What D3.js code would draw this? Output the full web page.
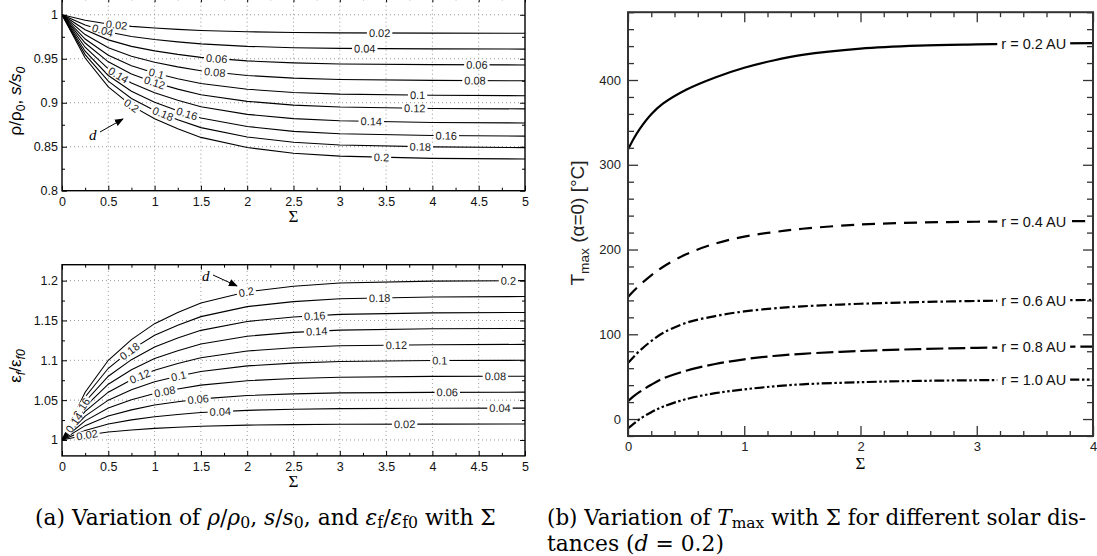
<!DOCTYPE html>
<html>
<head>
<meta charset="utf-8">
<script src="https://cdn.jsdelivr.net/npm/d3@7"></script>
<style>
  body { margin: 0; background: #fff; }
  svg { display: block; }
</style>
</head>
<body>
<svg id="fig" width="1097" height="556"></svg>
<script>
// ---- data ----
const sigmaA = [0, 0.25, 0.5, 0.75, 1, 1.25, 1.5, 2, 2.5, 3, 4, 5];
const dNames = ["0.02", "0.04", "0.06", "0.08", "0.1", "0.12", "0.14", "0.16", "0.18", "0.2"];

// rho/rho0 (= s/s0) for each d
const rhoRatio = [
  [1, 0.9937, 0.9895, 0.9868, 0.9849, 0.9834, 0.9822, 0.9807, 0.9798, 0.9794, 0.9791, 0.979],
  [1, 0.9883, 0.9805, 0.9754, 0.9719, 0.9692, 0.9669, 0.9641, 0.9626, 0.9618, 0.9612, 0.961],
  [1, 0.9829, 0.9715, 0.9641, 0.9590, 0.9550, 0.9516, 0.9476, 0.9453, 0.9441, 0.9433, 0.943],
  [1, 0.9775, 0.9625, 0.9528, 0.9460, 0.9408, 0.9363, 0.9310, 0.9280, 0.9265, 0.9254, 0.925],
  [1, 0.9724, 0.9540, 0.9420, 0.9338, 0.9273, 0.9218, 0.9154, 0.9117, 0.9098, 0.9085, 0.908],
  [1, 0.9679, 0.9465, 0.9326, 0.9230, 0.9155, 0.9090, 0.9016, 0.8973, 0.8951, 0.8935, 0.893],
  [1, 0.9631, 0.9385, 0.9225, 0.9114, 0.9028, 0.8955, 0.8868, 0.8819, 0.8795, 0.8776, 0.877],
  [1, 0.9586, 0.9310, 0.9131, 0.9006, 0.8910, 0.8827, 0.8730, 0.8675, 0.8648, 0.8627, 0.862],
  [1, 0.9547, 0.9245, 0.9049, 0.8913, 0.8807, 0.8717, 0.8611, 0.8550, 0.8520, 0.8498, 0.849],
  [1, 0.9508, 0.9180, 0.8967, 0.8819, 0.8704, 0.8606, 0.8491, 0.8426, 0.8393, 0.8368, 0.836]
];

// eps_f/eps_f0 for each d
const epsRatio = [
  [1, 1.006, 1.010, 1.0126, 1.0146, 1.016, 1.0172, 1.0186, 1.0193, 1.0197, 1.0199, 1.02],
  [1, 1.012, 1.020, 1.0252, 1.0292, 1.032, 1.0344, 1.0372, 1.0386, 1.0394, 1.0399, 1.04],
  [1, 1.018, 1.030, 1.0378, 1.0438, 1.048, 1.0516, 1.0558, 1.0579, 1.0591, 1.0598, 1.06],
  [1, 1.024, 1.040, 1.0504, 1.0584, 1.064, 1.0688, 1.0744, 1.0772, 1.0788, 1.0798, 1.08],
  [1, 1.030, 1.050, 1.0630, 1.0730, 1.080, 1.0860, 1.0930, 1.0965, 1.0985, 1.0997, 1.10],
  [1, 1.036, 1.060, 1.0756, 1.0876, 1.096, 1.1032, 1.1116, 1.1158, 1.1182, 1.1196, 1.12],
  [1, 1.042, 1.070, 1.0882, 1.1022, 1.112, 1.1204, 1.1302, 1.1351, 1.1379, 1.1396, 1.14],
  [1, 1.048, 1.080, 1.1008, 1.1168, 1.128, 1.1376, 1.1488, 1.1544, 1.1576, 1.1595, 1.16],
  [1, 1.054, 1.090, 1.1134, 1.1314, 1.144, 1.1548, 1.1674, 1.1737, 1.1773, 1.1795, 1.18],
  [1, 1.060, 1.100, 1.1260, 1.1460, 1.160, 1.1720, 1.1860, 1.1930, 1.1970, 1.1994, 1.20]
];

// contour label spots: [d, Sigma]
const rhoLabelAt = [
  ["0.02", 0.59], ["0.02", 3.43], ["0.04", 0.44], ["0.04", 3.27],
  ["0.06", 1.67], ["0.06", 4.48], ["0.08", 1.65], ["0.08", 4.46],
  ["0.1", 1.02], ["0.1", 3.84], ["0.12", 1.0], ["0.12", 3.81],
  ["0.14", 0.61], ["0.14", 3.34], ["0.16", 1.35], ["0.16", 4.15],
  ["0.18", 1.09], ["0.18", 3.87], ["0.2", 0.75], ["0.2", 3.45]
];
const epsLabelAt = [
  ["0.2", 1.99], ["0.2", 4.82], ["0.18", 0.73], ["0.18", 3.43],
  ["0.16", 0.21], ["0.16", 2.73], ["0.14", 0.13], ["0.14", 2.75],
  ["0.12", 0.84], ["0.12", 3.61], ["0.1", 1.26], ["0.1", 4.08],
  ["0.08", 1.11], ["0.08", 4.68], ["0.06", 1.47], ["0.06", 4.16],
  ["0.04", 1.71], ["0.04", 4.73], ["0.02", 0.27], ["0.02", 3.7]
];

// right panel: T_max vs Sigma
const sigmaB = [0, 0.05, 0.1, 0.2, 0.3, 0.5, 0.75, 1, 1.25, 1.5, 2, 2.5, 3, 3.5, 4];
const tmax02 = [318, 331, 342, 359.5, 372, 388.5, 403, 414.4, 423, 429.6, 437, 440.5, 442, 443, 443.5];
const tmax04 = [144, 151.4, 158, 169.6, 179.4, 194.4, 207, 215.3, 220.5, 224.5, 229.5, 231.8, 232.8, 233.3, 233.6];
const tmax06 = [66, 73.5, 80.5, 92, 101.5, 113.5, 121.5, 127, 130.5, 133, 136, 138, 139.3, 140, 140.5];
const tmax08 = [21, 27, 32, 40.5, 47.7, 57, 65, 70.5, 74.4, 77, 80.3, 82.5, 84, 85, 85.5];
const tmax10 = [-11, -5.5, 0, 8, 14.5, 23.5, 30.5, 35, 38.5, 41, 43.5, 45, 45.8, 46.3, 46.5];
const rNames = ["r = 0.2 AU", "r = 0.4 AU", "r = 0.6 AU", "r = 0.8 AU", "r = 1.0 AU"];

// ---- drawing ----
const SANS = "'Liberation Sans', Arial, Helvetica, sans-serif";
const SERIF = "'Liberation Serif', 'DejaVu Serif', serif";
const CAPSERIF = "'DejaVu Serif', 'Liberation Serif', serif";
const svg = d3.select("#fig");

svg.append("defs").append("marker")
  .attr("id", "arrow").attr("viewBox", "0 0 10 10")
  .attr("refX", 9).attr("refY", 5)
  .attr("markerWidth", 9).attr("markerHeight", 9)
  .attr("markerUnits", "userSpaceOnUse")
  .attr("orient", "auto")
  .append("path").attr("d", "M0,1 L10,5 L0,9 Z").attr("fill", "#000");

// write text with sub / italic pieces: [str, style]
function rich(t, parts, subShift) {
  let down = 0;
  parts.forEach(([s, st]) => {
    const sp = t.append("tspan").text(s);
    const isSub = st && st.includes("sub");
    if (isSub && down === 0) { sp.attr("dy", subShift); down = 1; }
    if (!isSub && down === 1) { sp.attr("dy", -subShift); down = 0; }
    if (isSub) sp.attr("font-size", "72%");
    if (st && st.includes("i")) sp.attr("font-style", "italic");
  });
  return t;
}

function panelA(id, x, y, yMajor, yMinor, yFmt, curves, labelAt) {
  const g = svg.append("g").attr("id", id);
  const [xa, xb] = x.range();
  const [yb, ya] = y.range();
  const xMajor = d3.range(0, 5.001, 0.5);
  const xMinor = d3.range(0.25, 5, 0.5);

  g.append("clipPath").attr("id", id + "-clip")
    .append("rect").attr("x", xa).attr("y", ya).attr("width", xb - xa).attr("height", yb - ya);

  // dotted grid
  const grid = g.append("g").attr("stroke", "#8a8a8a").attr("stroke-width", 0.9).attr("stroke-dasharray", "1,3");
  grid.selectAll(".gx").data(xMajor.filter(v => v > 0 && v < 5)).join("line")
    .attr("x1", d => x(d)).attr("x2", d => x(d)).attr("y1", yb).attr("y2", ya);
  grid.selectAll(".gy").data(yMajor.filter(v => y(v) > ya + 1 && y(v) < yb - 1)).join("line")
    .attr("x1", xa).attr("x2", xb).attr("y1", d => y(d)).attr("y2", d => y(d));

  const line = d3.line().x((d, i) => x(sigmaA[i])).y(d => y(d));
  g.append("g").attr("clip-path", `url(#${id}-clip)`)
    .selectAll("path").data(curves).join("path")
    .attr("d", line).attr("fill", "none").attr("stroke", "#000").attr("stroke-width", 1.1);

  // inline contour labels
  const lab = g.append("g");
  labelAt.forEach(([name, s]) => {
    const vals = curves[dNames.indexOf(name)];
    const f = d3.scaleLinear().domain(sigmaA).range(vals);
    const sA = Math.max(0, s - 0.07), sB = s + 0.07;
    const ang = Math.atan2(y(f(sB)) - y(f(sA)), x(sB) - x(sA)) * 180 / Math.PI;
    const lg = lab.append("g").attr("transform", `translate(${x(s)},${y(f(s))}) rotate(${ang})`);
    const t = lg.append("text").text(name)
      .attr("text-anchor", "middle").attr("dy", "0.36em")
      .attr("font-family", SANS).attr("font-size", 11).attr("fill", "#222");
    const w = t.node().getComputedTextLength();
    lg.insert("rect", "text").attr("x", -w / 2 - 2).attr("y", -4).attr("width", w + 4).attr("height", 8).attr("fill", "#fff");
  });

  // axes with inward ticks
  const ax = (sel, a) => { sel.call(a); sel.select(".domain").remove(); sel.selectAll("line").attr("stroke", "#000"); return sel; };
  ax(g.append("g").attr("transform", `translate(0,${yb})`),
    d3.axisBottom(x).tickValues(xMajor).tickSize(-5).tickPadding(6).tickFormat(d3.format("~g")));
  ax(g.append("g").attr("transform", `translate(0,${yb})`),
    d3.axisBottom(x).tickValues(xMinor).tickSize(-3).tickFormat(""));
  ax(g.append("g").attr("transform", `translate(0,${ya})`),
    d3.axisTop(x).tickValues(xMajor).tickSize(-5).tickFormat(""));
  ax(g.append("g").attr("transform", `translate(0,${ya})`),
    d3.axisTop(x).tickValues(xMinor).tickSize(-3).tickFormat(""));
  ax(g.append("g").attr("transform", `translate(${xa},0)`),
    d3.axisLeft(y).tickValues(yMajor).tickSize(-5).tickPadding(4).tickFormat(yFmt));
  ax(g.append("g").attr("transform", `translate(${xa},0)`),
    d3.axisLeft(y).tickValues(yMinor).tickSize(-3).tickFormat(""));
  ax(g.append("g").attr("transform", `translate(${xb},0)`),
    d3.axisRight(y).tickValues(yMajor).tickSize(-5).tickFormat(""));
  ax(g.append("g").attr("transform", `translate(${xb},0)`),
    d3.axisRight(y).tickValues(yMinor).tickSize(-3).tickFormat(""));
  g.selectAll(".tick text").attr("font-family", SANS).attr("font-size", 12.5).attr("fill", "#111");

  g.append("rect").attr("x", xa).attr("y", ya).attr("width", xb - xa).attr("height", yb - ya)
    .attr("fill", "none").attr("stroke", "#000").attr("stroke-width", 1.4);

  g.append("text").attr("x", (xa + xb) / 2).attr("y", yb + 31).attr("text-anchor", "middle")
    .attr("font-family", SERIF).attr("font-size", 17).text("Σ");
  return g;
}

// (a) top: rho/rho0, s/s0
const xA = d3.scaleLinear().domain([0, 5]).range([62, 525]);
const yRho = d3.scaleLinear().domain([0.8, 1.02]).range([190.7, -2.8]);
panelA("top", xA, yRho,
  [0.8, 0.85, 0.9, 0.95, 1], d3.range(0.825, 1.01, 0.05), d3.format("~g"), rhoRatio, rhoLabelAt);

// (a) bottom: eps_f/eps_f0
const yEps = d3.scaleLinear().domain([0.98, 1.22]).range([455.9, 264.7]);
panelA("bot", xA, yEps,
  [1, 1.05, 1.1, 1.15, 1.2], d3.range(0.975, 1.22, 0.05).filter(v => v > 0.98), d3.format("~g"), epsRatio, epsLabelAt);

// axis titles (left)
rich(svg.append("text").attr("transform", "translate(21,101) rotate(-90)")
  .attr("text-anchor", "middle").attr("font-family", SANS).attr("font-size", 17),
  [["ρ/ρ", ""], ["0", "sub"], [", ", ""], ["s/s", "i"], ["0", "isub"]], 4);
rich(svg.append("text").attr("transform", "translate(21,366) rotate(-90)")
  .attr("text-anchor", "middle").attr("font-family", SANS).attr("font-size", 17),
  [["ε", ""], ["f", "isub"], ["/ε", ""], ["f0", "isub"]], 4);

// "d" arrows
function dArrow(tx, ty, x1, y1, x2, y2) {
  svg.append("text").attr("x", tx).attr("y", ty).attr("font-family", SERIF)
    .attr("font-style", "italic").attr("font-size", 15).text("d");
  svg.append("line").attr("x1", x1).attr("y1", y1).attr("x2", x2).attr("y2", y2)
    .attr("stroke", "#000").attr("stroke-width", 1).attr("marker-end", "url(#arrow)");
}
dArrow(89, 140, 100, 132, 123, 119);
dArrow(202, 281, 213, 275, 237, 286);

// (b) right panel
const xB = d3.scaleLinear().domain([0, 4]).range([628, 1093]);
const yB = d3.scaleLinear().domain([-20, 480]).range([436, 12.2]);
const gR = svg.append("g");
gR.append("clipPath").attr("id", "rclip").append("rect")
  .attr("x", 628).attr("y", 12.2).attr("width", 465).attr("height", 423.8);

const tCurves = [tmax02, tmax04, tmax06, tmax08, tmax10];
const dashes = ["none", "13,8", "10,3,2.5,3", "17,5", "10,2.5,2.5,2.5,2.5,2.5"];
const lineB = d3.line().x((d, i) => xB(sigmaB[i])).y(d => yB(d)).curve(d3.curveCatmullRom);
gR.append("g").attr("clip-path", "url(#rclip)")
  .selectAll("path").data(tCurves).join("path")
  .attr("d", lineB).attr("fill", "none").attr("stroke", "#000").attr("stroke-width", 2.2)
  .attr("stroke-dasharray", (d, i) => dashes[i]);

const labX = 3.49;
tCurves.forEach((vals, i) => {
  const f = d3.scaleLinear().domain(sigmaB).range(vals);
  const lg = gR.append("g").attr("transform", `translate(${xB(labX)},${yB(f(labX))})`);
  const t = lg.append("text").text(rNames[i]).attr("text-anchor", "middle").attr("dy", "0.36em")
    .attr("font-family", SANS).attr("font-size", 14.5).attr("fill", "#111");
  const w = t.node().getComputedTextLength();
  lg.insert("rect", "text").attr("x", -w / 2 - 4).attr("y", -7).attr("width", w + 8).attr("height", 14).attr("fill", "#fff");
});

const axR = (sel, a) => { sel.call(a); sel.select(".domain").remove(); sel.selectAll("line").attr("stroke", "#333").attr("stroke-width", 1.3); return sel; };
const xMajB = d3.range(0, 4.001, 1), xMinB = d3.range(0.2, 4, 0.2).filter(v => Math.abs(v - Math.round(v)) > 0.01);
const yMajB = d3.range(0, 401, 100), yMinB = d3.range(-20, 481, 20).filter(v => v % 100 !== 0);
axR(gR.append("g").attr("transform", "translate(0,436)"),
  d3.axisBottom(xB).tickValues(xMajB).tickSize(-10).tickPadding(6).tickFormat(d3.format("d")));
axR(gR.append("g").attr("transform", "translate(0,436)"), d3.axisBottom(xB).tickValues(xMinB).tickSize(-5).tickFormat(""));
axR(gR.append("g").attr("transform", "translate(0,12.2)"), d3.axisTop(xB).tickValues(xMajB).tickSize(-10).tickFormat(""));
axR(gR.append("g").attr("transform", "translate(0,12.2)"), d3.axisTop(xB).tickValues(xMinB).tickSize(-5).tickFormat(""));
axR(gR.append("g").attr("transform", "translate(628,0)"),
  d3.axisLeft(yB).tickValues(yMajB).tickSize(-10).tickPadding(7).tickFormat(d3.format("d")));
axR(gR.append("g").attr("transform", "translate(628,0)"), d3.axisLeft(yB).tickValues(yMinB).tickSize(-6).tickFormat(""));
axR(gR.append("g").attr("transform", "translate(1093,0)"), d3.axisRight(yB).tickValues(yMajB).tickSize(-10).tickFormat(""));
axR(gR.append("g").attr("transform", "translate(1093,0)"), d3.axisRight(yB).tickValues(yMinB).tickSize(-6).tickFormat(""));
gR.selectAll(".tick text").attr("font-family", SANS).attr("font-size", 13).attr("fill", "#222");
gR.append("rect").attr("x", 628).attr("y", 12.2).attr("width", 465).attr("height", 423.8)
  .attr("fill", "none").attr("stroke", "#333").attr("stroke-width", 2);
gR.append("text").attr("x", xB(2)).attr("y", 469).attr("text-anchor", "middle")
  .attr("font-family", SERIF).attr("font-size", 17).text("Σ");
rich(gR.append("text").attr("transform", "translate(584,223) rotate(-90)")
  .attr("text-anchor", "middle").attr("font-family", SANS).attr("font-size", 19).attr("fill", "#222"),
  [["T", ""], ["max", "sub"], [" (α=0) [°C]", ""]], 5);

// captions: size fitted to the reference width of (a), (b) justified by word spacing
const capA = rich(svg.append("text").attr("x", 35).attr("y", 525)
  .attr("font-family", CAPSERIF).attr("font-size", 16),
  [["(a)  Variation of ", ""], ["ρ", "i"], ["/", ""], ["ρ", "i"], ["0", "sub"], [", ", ""], ["s", "i"], ["/", ""], ["s", "i"], ["0", "sub"],
   [", and ", ""], ["ε", "i"], ["f", "sub"], ["/", ""], ["ε", "i"], ["f0", "sub"], [" with Σ", ""]], 3);
const capSize = 16 * 461 / capA.node().getComputedTextLength();
capA.attr("font-size", capSize);

const capB1 = rich(svg.append("text").attr("x", 547).attr("y", 525)
  .attr("font-family", CAPSERIF).attr("font-size", capSize),
  [["(b)  Variation of ", ""], ["T", "i"], ["max", "sub"], [" with Σ for different solar dis-", ""]], 3);
const spB = (capB1.text().match(/ /g) || []).length;
const extraB = (539 - capB1.node().getComputedTextLength()) / spB;
if (extraB > 0) capB1.attr("word-spacing", extraB);
else capB1.attr("font-size", capSize * 539 / capB1.node().getComputedTextLength());
rich(svg.append("text").attr("x", 547).attr("y", 551)
  .attr("font-family", CAPSERIF).attr("font-size", capSize),
  [["tances (", ""], ["d", "i"], [" = 0.2)", ""]], 3);
</script>
</body>
</html>
